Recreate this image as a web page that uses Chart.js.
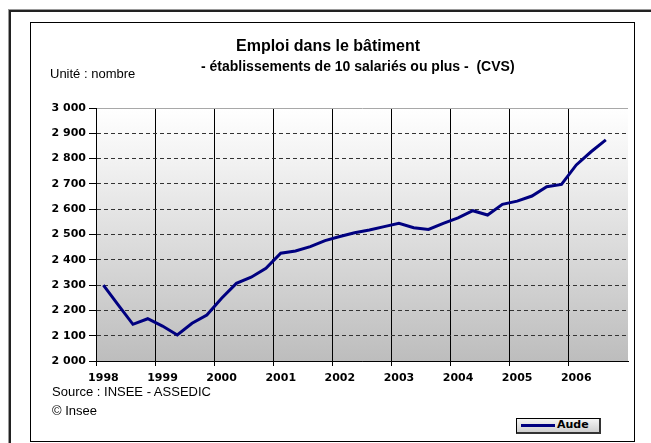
<!DOCTYPE html>
<html lang="fr">
<head>
<meta charset="utf-8">
<script src="https://cdn.jsdelivr.net/npm/chart.js@4/dist/chart.umd.min.js"></script>
<style>
  html, body { margin: 0; padding: 0; background: #fff; width: 651px; height: 443px; overflow: hidden; }
  #wrap { position: relative; width: 651px; height: 443px; }
  canvas { position: absolute; left: 0; top: 0; }
  .outer { position: absolute; left: 9px; top: 10px; width: 700px; height: 500px;
           border-left: 2px solid #222; border-top: 2px solid #222; box-shadow: -1px -1px 0 #999; }
  .inner { position: absolute; left: 30px; top: 22px; width: 603px; height: 418px; border: 1px solid #000; }
  .txt { position: absolute; white-space: pre; color: #000; font-family: "Liberation Sans", Arial, sans-serif; line-height: 1; }
  .t1 { font-weight: bold; font-size: 16px; left: 0; width: 656px; text-align: center; top: 38px; }
  .t2 { font-weight: bold; font-size: 14px; left: 201px; top: 59px; }
  .unit { font-size: 13px; left: 50px; top: 67px; }
  .src { font-size: 13px; left: 52px; top: 385px; }
  .copy { font-size: 13px; left: 52px; top: 404px; }
  .legend { position: absolute; left: 516px; top: 418px; width: 82px; height: 13px;
            border: 1px solid #000; border-right: 2px solid #333; border-bottom: 2px solid #333;
            background: linear-gradient(#f4f4f4, #cfcfcf); }
  .legend .sw { position: absolute; left: 4px; top: 5px; width: 34px; height: 3px; background: #000080; }
  .legend .lb { position: absolute; left: 40px; top: -1px; font: bold 11px "DejaVu Sans", sans-serif; }
</style>
</head>
<body>
<div id="wrap">
  <div class="outer"></div>
  <div class="inner"></div>
  <canvas id="c" width="651" height="443"></canvas>
  <div class="txt t1">Emploi dans le bâtiment</div>
  <div class="txt t2">- établissements de 10 salariés ou plus -  (CVS)</div>
  <div class="txt unit">Unité : nombre</div>
  <div class="txt src">Source : INSEE - ASSEDIC</div>
  <div class="txt copy">© Insee</div>
  <div class="legend"><div class="sw"></div><div class="lb">Aude</div></div>
</div>
<script>
// Years shown on the axis (one label per year, at its first quarter)
const years = ['1998','1999','2000','2001','2002','2003','2004','2005','2006'];
const quarters = ['T1','T2','T3','T4'];
// Quarterly categories 1998T1 .. 2006T4
const categories = [];
years.forEach(y => quarters.forEach(q => categories.push(y + ' ' + q)));
// Employment, Aude, quarterly (seasonally adjusted), 1998T1 .. 2006T3
const aude = [
  2300, 2222, 2145, 2167, 2138, 2103, 2149, 2182,
  2248, 2307, 2331, 2366, 2426, 2435, 2452, 2476,
  2492, 2507, 2518, 2531, 2544, 2527, 2520, 2544,
  2566, 2594, 2577, 2619, 2632, 2652, 2689, 2698,
  2775, 2827, 2874
];
const yMin = 2000, yMax = 3000, yStep = 100;

const bgPlugin = {
  id: 'plotBg',
  beforeDraw(chart) {
    const { ctx, chartArea: a } = chart;
    const g = ctx.createLinearGradient(0, a.top, 0, a.bottom);
    g.addColorStop(0, '#ffffff');
    g.addColorStop(0.15, '#f6f6f6');
    g.addColorStop(1, '#bdbdbd');
    ctx.save();
    ctx.fillStyle = g;
    ctx.fillRect(a.left, a.top, a.right - a.left, a.bottom - a.top);
    ctx.restore();
  }
};

const tickFont = { family: '"DejaVu Sans", Verdana, sans-serif', size: 11, weight: 'bold' };

new Chart(document.getElementById('c'), {
  type: 'line',
  data: {
    labels: categories,
    datasets: [{
      label: 'Aude',
      data: aude,
      borderColor: '#000080',
      borderWidth: 3,
      pointRadius: 0,
      tension: 0,
      fill: false
    }]
  },
  options: {
    responsive: false,
    devicePixelRatio: 1,
    animation: false,
    layout: { padding: { left: 0, top: 108, right: 23, bottom: 0 } },
    plugins: { legend: { display: false }, title: { display: false }, tooltip: { enabled: false } },
    scales: {
      x: {
        type: 'category',
        offset: true,
        afterFit(s) { s.height = 82; },
        grid: {
          offset: true,
          drawOnChartArea: true,
          lineWidth: 1,
          color: ctx => (ctx.index === categories.length ? '#9a9a9a' : (ctx.index % 4 === 0 ? '#000' : 'rgba(0,0,0,0)')),
          tickLength: 5
        },
        border: { display: true, color: '#000', width: 1 },
        ticks: {
          autoSkip: false,
          maxRotation: 0,
          minRotation: 0,
          padding: 6,
          color: '#000',
          font: tickFont,
          callback: (v, i) => (i % 4 === 0 ? years[i / 4] : '')
        }
      },
      y: {
        min: yMin,
        max: yMax,
        afterFit(s) { s.width = 96; },
        grid: {
          lineWidth: 1,
          color: ctx => (ctx.tick && ctx.tick.value === yMax ? '#a8a8a8' : '#333'),
          tickColor: '#000',
          tickBorderDash: [],
          tickLength: 7
        },
        border: {
          display: true,
          color: '#000',
          width: 1,
          dash: ctx => (ctx.tick && (ctx.tick.value === yMax || ctx.tick.value === yMin) ? [] : [4, 3])
        },
        ticks: {
          stepSize: yStep,
          padding: 3,
          color: '#000',
          font: tickFont,
          callback: v => String(v).replace(/\B(?=(\d{3})+(?!\d))/g, ' ')
        }
      }
    }
  },
  plugins: [bgPlugin]
});
</script>
</body>
</html>
